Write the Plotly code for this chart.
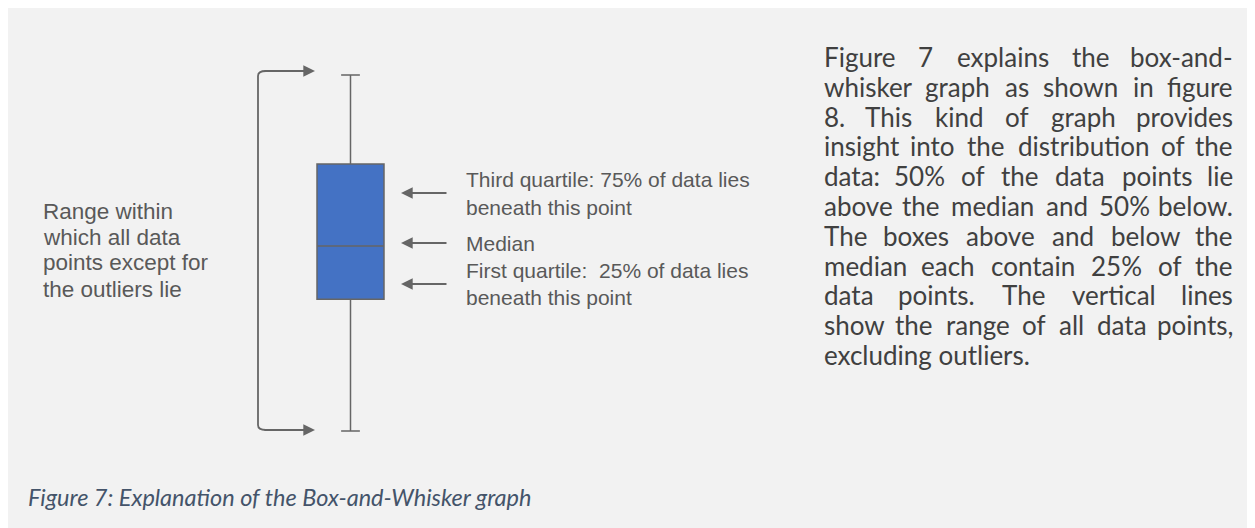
"""
Box-and-whisker explanation figure, rebuilt with Plotly
"""

import plotly.graph_objects as go

W, H = 1255, 528
PAGE_MARGIN = 8  # the browser's default body margin shifts the figure

# Box-and-whisker statistics (arbitrary units)
lower_fence = [0]
first_quartile = [37]
median = [52]
third_quartile = [75]
upper_fence = [100]

# Texts
range_label = ["Range within", "which all data", "points except for", "the outliers lie"]
pointer_labels = [
    "Third quartile: 75% of data lies",
    "beneath this point",
    "Median",
    "First quartile:  25% of data lies",
    "beneath this point",
]
paragraph = [
    "Figure 7 explains the box-and-",
    "whisker graph as shown in figure",
    "8. This kind of graph provides",
    "insight into the distribution of the",
    "data: 50% of the data points lie",
    "above the median and 50% below.",
    "The boxes above and below the",
    "median each contain 25% of the",
    "data points. The vertical lines",
    "show the range of all data points,",
    "excluding outliers.",
]
caption = "Figure 7: Explanation of the Box-and-Whisker graph"

GREY = "#666666"
TEXT_GREY = "#595959"
BODY = "#404040"
BLUE = "#4472C4"

BODY_FONT = "Lato"
BODY_SIZE = 26

# rough advance widths (em) for the body font, used to justify lines
CHAR_W = {
    "a": .49, "b": .56, "c": .46, "d": .56, "e": .52, "f": .33, "g": .50,
    "h": .56, "i": .24, "j": .24, "k": .51, "l": .24, "m": .83, "n": .56,
    "o": .55, "p": .55, "q": .56, "r": .37, "s": .42, "t": .35, "u": .56,
    "v": .50, "w": .77, "x": .49, "y": .50, "z": .45,
    "F": .56, "T": .58, "0": .58, "2": .58, "5": .58, "7": .58, "8": .58,
    ".": .21, ",": .21, ":": .23, "%": .74, "-": .34,
}


def px(x):
    return (x - PAGE_MARGIN) / W


def py(y):
    return 1 - (y - PAGE_MARGIN) / H


def word_width(word):
    return sum(CHAR_W.get(c, .6) for c in word) * BODY_SIZE


# pixel anchors of the box drawing
BOX_LEFT, BOX_RIGHT = 317, 384
FENCE_TOP, FENCE_BOTTOM = 75, 431
pad_x = 0.2
pad_y = 10
unit_y = (FENCE_BOTTOM - FENCE_TOP) / (upper_fence[0] - lower_fence[0])
unit_x = BOX_RIGHT - BOX_LEFT

fig = go.Figure(go.Box(
    x=[0],
    lowerfence=lower_fence,
    q1=first_quartile,
    median=median,
    q3=third_quartile,
    upperfence=upper_fence,
    width=1,
    whiskerwidth=0.28,
    fillcolor=BLUE,
    line=dict(color=GREY, width=1.5),
    hoverinfo='skip',
    showlegend=False,
))

annotations = []

# left bracket label
for i, line in enumerate(range_label):
    annotations.append(dict(
        x=px(41), y=py(211 + 26 * i), xref='paper', yref='paper',
        text=line, showarrow=False, xanchor='left', yanchor='middle',
        font=dict(family="Liberation Sans", size=22.5, color=TEXT_GREY),
    ))

# pointer labels next to the box
label_y = [180, 207, 243, 270, 297]
for line, y in zip(pointer_labels, label_y):
    annotations.append(dict(
        x=px(464), y=py(y), xref='paper', yref='paper',
        text=line.replace("  ", "&nbsp; "), showarrow=False,
        xanchor='left', yanchor='middle',
        font=dict(family="Liberation Sans", size=21, color=TEXT_GREY),
    ))

# pointer arrows
for y in [193, 243, 284]:
    annotations.append(dict(
        x=px(401), y=py(y), xref='paper', yref='paper', text='',
        showarrow=True, ax=47, ay=0, arrowhead=2, arrowsize=1.3,
        arrowwidth=1.8, arrowcolor=GREY, standoff=0,
    ))

# bracket arrows
for y in [71, 430]:
    annotations.append(dict(
        x=px(315), y=py(y), xref='paper', yref='paper', text='',
        showarrow=True, ax=-52, ay=0, arrowhead=2, arrowsize=1.3,
        arrowwidth=1.8, arrowcolor=GREY, standoff=0,
    ))

# justified body paragraph
PARA_LEFT, PARA_RIGHT = 822, 1235
for i, line in enumerate(paragraph):
    y = py(57 + 29.8 * i)
    words = line.split()
    if i == len(paragraph) - 1:
        annotations.append(dict(
            x=px(PARA_LEFT), y=y, xref='paper', yref='paper', text=line,
            showarrow=False, xanchor='left', yanchor='middle',
            font=dict(family=BODY_FONT, size=BODY_SIZE, color=BODY),
        ))
        continue
    widths = [word_width(w) for w in words]
    gap = (PARA_RIGHT - PARA_LEFT - sum(widths)) / (len(words) - 1)
    cursor = PARA_LEFT
    for j, (word, ww) in enumerate(zip(words, widths)):
        if j == 0:
            x, anchor = cursor, 'left'
        elif j == len(words) - 1:
            x, anchor = PARA_RIGHT, 'right'
        else:
            x, anchor = cursor + ww / 2, 'center'
        annotations.append(dict(
            x=px(x), y=y, xref='paper', yref='paper', text=word,
            showarrow=False, xanchor=anchor, yanchor='middle',
            font=dict(family=BODY_FONT, size=BODY_SIZE, color=BODY),
        ))
        cursor += ww + gap

# caption
annotations.append(dict(
    x=px(26), y=py(497), xref='paper', yref='paper', text=caption,
    showarrow=False, xanchor='left', yanchor='middle',
    font=dict(family=BODY_FONT, size=23.5, color="#44546A", style='italic'),
))

# bracket with slightly rounded corners
bracket = (
    f"M {px(266)},{py(71)} Q {px(258)},{py(71)} {px(258)},{py(76)} "
    f"L {px(258)},{py(425)} Q {px(258)},{py(430)} {px(266)},{py(430)}"
)

fig.update_layout(
    width=W,
    height=H,
    margin=dict(l=0, r=0, t=0, b=0, pad=0),
    paper_bgcolor='#F2F2F2',
    plot_bgcolor='rgba(0,0,0,0)',
    xaxis=dict(
        domain=[px(BOX_LEFT - pad_x * unit_x), px(BOX_RIGHT + pad_x * unit_x)],
        range=[-0.5 - pad_x, 0.5 + pad_x], visible=False, fixedrange=True,
    ),
    yaxis=dict(
        domain=[py(FENCE_BOTTOM + pad_y * unit_y), py(FENCE_TOP - pad_y * unit_y)],
        range=[lower_fence[0] - pad_y, upper_fence[0] + pad_y],
        visible=False, fixedrange=True,
    ),
    shapes=[
        dict(type='path', xref='paper', yref='paper', path=bracket,
             line=dict(color=GREY, width=1.8)),
    ],
    annotations=annotations,
    showlegend=False,
)

fig.write_html("out.html")
